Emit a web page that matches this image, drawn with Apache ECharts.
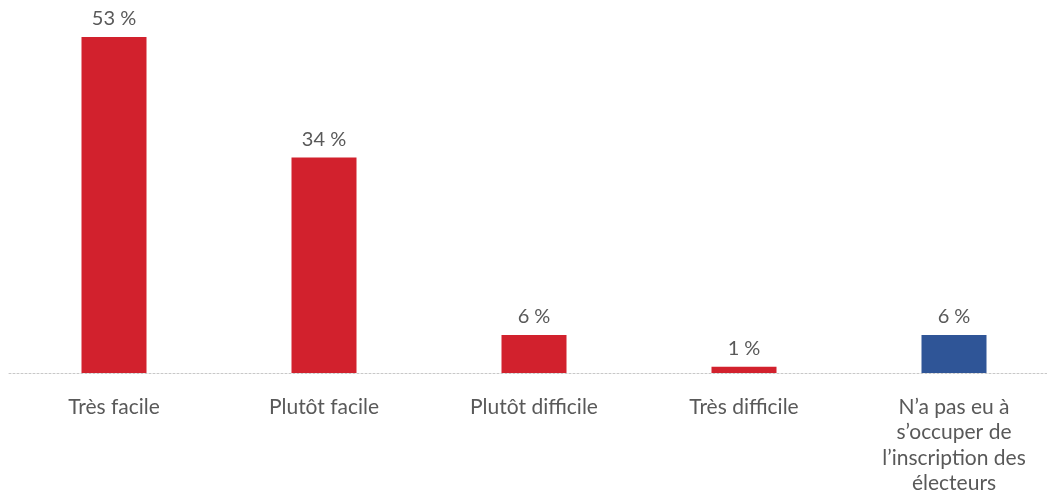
<!DOCTYPE html>
<html>
<head>
<meta charset="utf-8">
<script src="https://cdn.jsdelivr.net/npm/echarts@6/dist/echarts.min.js"></script>
<style>html,body{margin:0;padding:0;background:#fff;overflow:hidden}#c{width:1059px;height:498px}</style>
</head>
<body>
<div id="c"></div>
<script>
const categories = ["Très facile", "Plutôt facile", "Plutôt difficile", "Très difficile", "N’a pas eu à\ns’occuper de\nl’inscription des\nélecteurs"];
const values = [53, 34, 6, 1, 6];
const barColors = ["#D2212D", "#D2212D", "#D2212D", "#D2212D", "#2F5597"];

const chart = echarts.init(document.getElementById('c'));
chart.setOption({
  animation: false,
  grid: { left: 9, right: 0, top: 37, bottom: 125, containLabel: false },
  xAxis: {
    type: 'category',
    data: categories,
    axisLine: { show: true, lineStyle: { color: '#c8c8c8', type: [2, 2], width: 1 } },
    axisTick: { show: false },
    axisLabel: { color: '#595959', fontFamily: 'Lato', fontSize: 21, lineHeight: 25.5, margin: 21, interval: 0 }
  },
  yAxis: { type: 'value', min: 0, max: 53, show: false, splitLine: { show: false } },
  series: [{
    type: 'bar',
    barWidth: 65,
    data: values.map((v, i) => ({ value: v, itemStyle: { color: barColors[i] } })),
    label: { show: true, position: 'top', distance: 8, formatter: p => p.value + ' %', color: '#595959', fontFamily: 'Lato', fontSize: 20 }
  }]
});
</script>
</body>
</html>
